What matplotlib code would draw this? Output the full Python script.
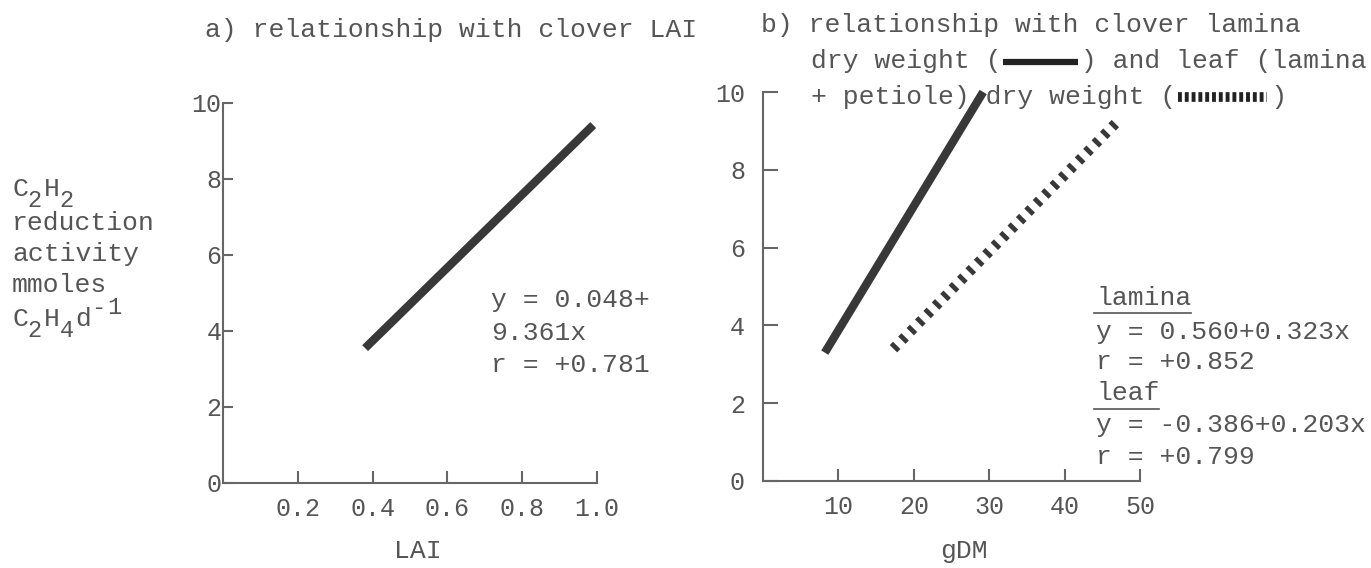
import matplotlib.pyplot as plt
from matplotlib.lines import Line2D

plt.rcParams['font.family'] = ['Liberation Mono', 'DejaVu Sans Mono']

# data (end points of the fitted lines)
lai_x = [0.38, 0.99]
lai_y = [3.55, 9.42]
lamina_x = [8.2, 29.2]
lamina_y = [3.3, 10.0]
leaf_x = [17.3, 47.3]
leaf_y = [3.4, 9.3]

lai_ticks = [0.2, 0.4, 0.6, 0.8, 1.0]
lai_ticklabels = ['0.2', '0.4', '0.6', '0.8', '1.0']
gdm_ticks = [10, 20, 30, 40, 50]
gdm_ticklabels = ['10', '20', '30', '40', '50']
y_ticks = [0, 2, 4, 6, 8, 10]
y_ticklabels = ['0', '2', '4', '6', '8', '10']

W, H = 1371, 568
text_col = '#555555'
line_col = '#383838'
axis_col = '#666666'
fs = 19
cw = 0.6 * fs * 100 / 72  # width of one monospace character in pixels


def px(x, y):
    # pixel position (from top-left) -> figure fraction
    return x / W, 1 - y / H


fig = plt.figure(figsize=(W / 100, H / 100), dpi=100)

ax_a = fig.add_axes([223 / W, 1 - 483 / H, (597 - 223) / W, (483 - 103) / H])
ax_b = fig.add_axes([763 / W, 1 - 481 / H, (1140 - 763) / W, (481 - 92) / H])

for ax in (ax_a, ax_b):
    for side in ('top', 'right'):
        ax.spines[side].set_visible(False)
    for side in ('left', 'bottom'):
        ax.spines[side].set_color(axis_col)
        ax.spines[side].set_linewidth(1.5)
    ax.set_ylim(0, 10)
    ax.set_yticks(y_ticks)
    ax.set_yticklabels(y_ticklabels)
    ax.tick_params(axis='both', direction='in', colors=axis_col, labelcolor=text_col,
                   labelsize=18, width=1.5)
    ax.tick_params(axis='x', length=9, pad=10)

# panel a
ax_a.set_xlim(0, 1.0)
ax_a.set_xticks(lai_ticks)
ax_a.set_xticklabels(lai_ticklabels)
ax_a.tick_params(axis='y', length=7, pad=1)
ax_a.plot(lai_x, lai_y, color=line_col, lw=6, solid_capstyle='butt', clip_on=False)

# panel b
ax_b.set_xlim(0, 50)
ax_b.set_xticks(gdm_ticks)
ax_b.set_xticklabels(gdm_ticklabels)
ax_b.tick_params(axis='y', length=11, pad=13)
ax_b.plot(lamina_x, lamina_y, color=line_col, lw=6, solid_capstyle='butt', clip_on=False)
ax_b.plot(leaf_x, leaf_y, color=line_col, lw=7.5, dashes=(0.45, 0.7),
          dash_capstyle='butt', clip_on=False)

# titles
fig.text(*px(205, 30), 'a) relationship with clover LAI', fontsize=fs, color=text_col, va='center')
fig.text(*px(761, 25), 'b) relationship with clover lamina', fontsize=fs, color=text_col, va='center')
fig.text(*px(811, 61), 'dry weight (     ) and leaf (lamina', fontsize=fs, color=text_col, va='center')
fig.text(*px(811, 97), '+ petiole) dry weight (      )', fontsize=fs, color=text_col, va='center')

# key symbols inside the title
x0, x1 = 811 + 12 * cw + 2, 811 + 17 * cw - 2
fig.add_artist(Line2D([x0 / W, x1 / W], [1 - 62 / H] * 2, color='#222222', lw=4.5,
                      solid_capstyle='butt'))
x0, x1 = 811 + 23 * cw + 3, 811 + 29 * cw - 3
fig.add_artist(Line2D([x0 / W, x1 / W], [1 - 97 / H] * 2, color='#222222', lw=7,
                      dashes=(0.4, 0.3), dash_capstyle='butt'))

# y label, typed character by character with dropped subscripts like the original
ylab_plain = ['reduction', 'activity', 'mmoles']
ylab_plain_y = [230, 261, 292]
for s, yy in zip(ylab_plain, ylab_plain_y):
    fig.text(*px(12, yy), s, fontsize=fs, color=text_col, va='baseline')

# (character, slot, baseline) for the two chemical formula lines
formula_chars = [('C', 0, 196), ('2', 1, 207), ('H', 2, 196), ('2', 3, 207),
                 ('C', 0, 326), ('2', 1, 337), ('H', 2, 326), ('4', 3, 337),
                 ('d', 4, 326), ('-', 5, 314), ('1', 6, 314)]
for ch, slot, base in formula_chars:
    small = ch in '124-' and base not in (196, 326)
    fig.text(*px(12 + slot * cw, base), ch, fontsize=fs - 2 if small else fs,
             color=text_col, va='baseline')

# x labels
fig.text(*px(418, 551), 'LAI', fontsize=fs, color=text_col, ha='center', va='center')
fig.text(*px(964, 551), 'gDM', fontsize=fs, color=text_col, ha='center', va='center')

# regression text, panel a
for s, yy in zip(['y = 0.048+', '9.361x', 'r = +0.781'], [300, 333, 365]):
    fig.text(*px(491, yy), s, fontsize=fs, color=text_col, va='center')

# regression text, panel b
eq_b = ['lamina', 'y = 0.560+0.323x', 'r = +0.852', 'leaf', 'y = -0.386+0.203x', 'r = +0.799']
eq_b_y = [298, 332, 362, 393, 425, 457]
for s, yy in zip(eq_b, eq_b_y):
    fig.text(*px(1096, yy), s, fontsize=fs, color=text_col, va='center')
fig.add_artist(Line2D([1094 / W, (1096 + 6 * cw) / W], [1 - 313 / H] * 2, color=text_col, lw=1.2))
fig.add_artist(Line2D([1094 / W, (1096 + 4 * cw) / W], [1 - 409 / H] * 2, color=text_col, lw=1.2))

fig.savefig('out.png', dpi=100)
